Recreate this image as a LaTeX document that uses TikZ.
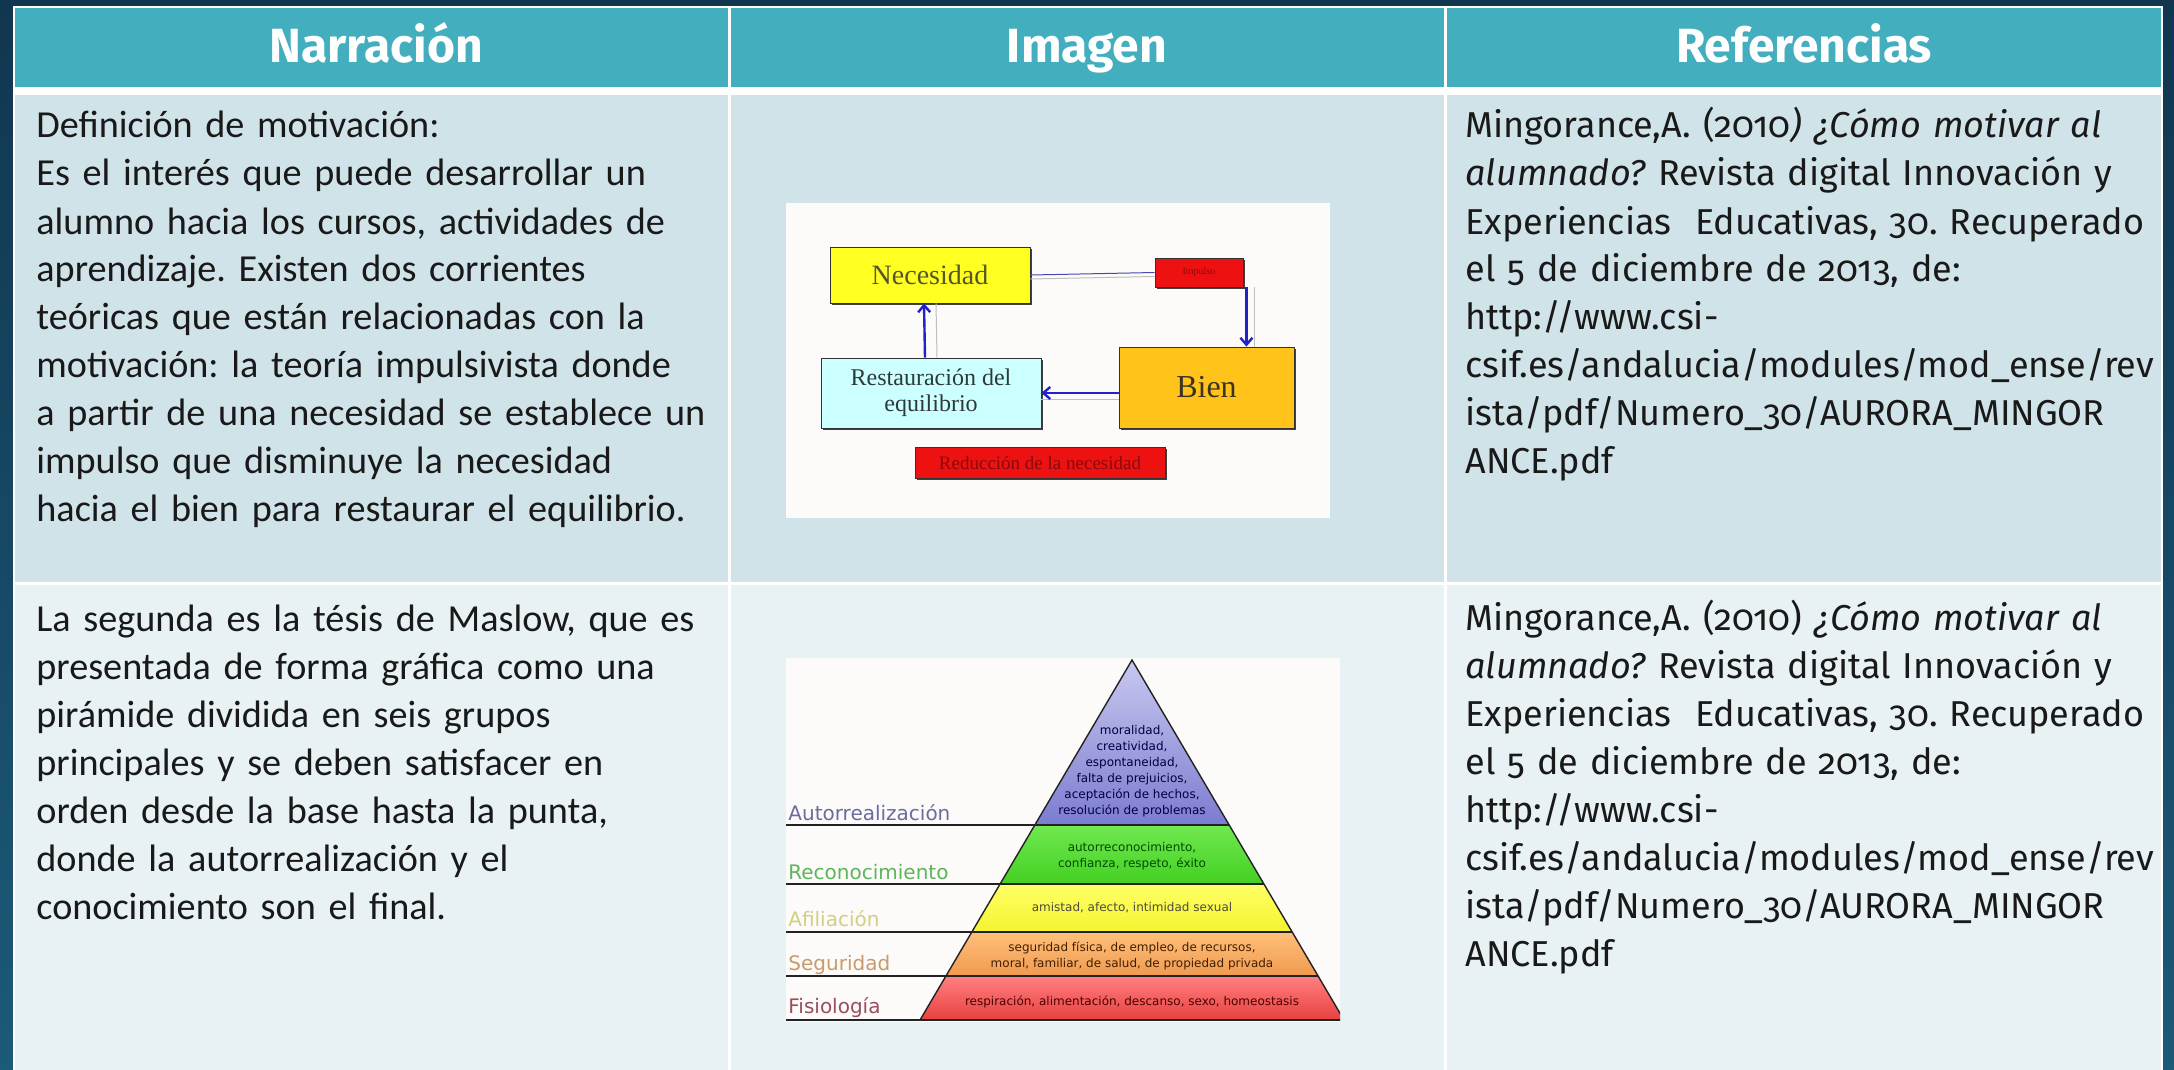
\documentclass[tikz,border=0pt]{standalone}
\usepackage{fontspec}
\setmainfont{Carlito}
\newfontfamily\headfont{Fira Sans}
\newfontfamily\reffont[Numbers=OldStyle]{Fira Sans}
\newfontfamily\figfont{Liberation Serif}
\newfontfamily\pyrfont{DejaVu Sans}
\usetikzlibrary{arrows.meta,shadows}
\frenchspacing

\definecolor{bgtop}{HTML}{113650}
\definecolor{bgbot}{HTML}{1B5A78}
\definecolor{headteal}{HTML}{42AEBE}
\definecolor{rowone}{HTML}{D0E3E9}
\definecolor{rowtwo}{HTML}{E8F1F4}
\definecolor{figwhite}{HTML}{FCFBF9}
\definecolor{necyellow}{HTML}{FFFF22}
\definecolor{bienorange}{HTML}{FFC31A}
\definecolor{restcyan}{HTML}{CCFFFF}
\definecolor{boxred}{HTML}{EE1111}
\definecolor{darkred}{HTML}{8A0A0A}
\definecolor{necink}{HTML}{55552A}
\definecolor{bienink}{HTML}{3D3320}
\definecolor{restink}{HTML}{2E3A3A}
\definecolor{flowblue}{HTML}{2222CC}
\definecolor{pyrline}{HTML}{222222}
\definecolor{autortop}{HTML}{C8C8F0}
\definecolor{autorbot}{HTML}{7C7CD0}
\definecolor{recontop}{HTML}{70E850}
\definecolor{reconbot}{HTML}{44D022}
\definecolor{afiltop}{HTML}{FFFF66}
\definecolor{afilbot}{HTML}{F4F430}
\definecolor{segtop}{HTML}{FFC07A}
\definecolor{segbot}{HTML}{F09A50}
\definecolor{fisiotop}{HTML}{FF8080}
\definecolor{fisiobot}{HTML}{E84040}
\definecolor{autorink}{HTML}{6B6B9E}
\definecolor{reconink}{HTML}{5DB55A}
\definecolor{afilink}{HTML}{D0D080}
\definecolor{segink}{HTML}{C99A6A}
\definecolor{fisioink}{HTML}{9A4D5F}

\begin{document}
\begin{tikzpicture}[x=0.5pt,y=-0.5pt,
    head/.style={anchor=base, text=white, font=\headfont\bfseries\fontsize{24}{28}\selectfont},
    narr/.style={anchor=base west, inner sep=0pt, text width=340pt, align=left, text=black!90, font=\fontsize{19.1}{24}\selectfont},
    refs/.style={anchor=base west, inner sep=0pt, text width=340pt, align=left, text=black!90, font=\reffont\fontsize{18}{24}\selectfont},
    fbox/.style={draw=black!80, line width=0.4pt, inner sep=1pt, align=center,
      drop shadow={shadow xshift=1.2pt, shadow yshift=-1.2pt, fill=black!75, opacity=1}},
    flow/.style={flowblue, line width=1.2pt, -{Straight Barb[length=3.5pt,width=6pt]}},
    echo/.style={black!25, line width=0.5pt},
    lvl/.style={anchor=base west, inner sep=0pt, font=\pyrfont\fontsize{10}{12}\selectfont},
    lvltext/.style={align=center, inner sep=0pt, font=\pyrfont\fontsize{6}{8}\selectfont},
    pyrrule/.style={pyrline, line width=0.7pt}]

  \useasboundingbox (0,0) rectangle (2174,1070);
  \shade[top color=bgtop, bottom color=bgbot] (0,0) rectangle (2174,1070);
  \fill[white] (13,6) rectangle (2163,1070);
  \fill[headteal] (15,8) rectangle (2161,87);
  \fill[rowone] (15,95) rectangle (2161,582);
  \fill[rowtwo] (15,585) rectangle (2161,1070);
  \draw[white, line width=1.5pt] (729.5,6) -- (729.5,1070);
  \draw[white, line width=1.5pt] (1445.5,6) -- (1445.5,1070);

  \node[head] (hnarr) at (376,63) {Narración};
  \node[head] (himg) at (1087,63) {Imagen};
  \node[head] (hrefs) at (1804,63) {Referencias};

  \node[narr] (narr1) at (36,138) {Definición de motivación:\\
    Es el interés que puede desarrollar un\\
    alumno hacia los cursos, actividades de\\
    aprendizaje. Existen dos corrientes\\
    teóricas que están relacionadas con la\\
    motivación: la teoría impulsivista donde\\
    a partir de una necesidad se establece un\\
    impulso que disminuye la necesidad\\
    hacia el bien para restaurar el equilibrio.};
  \node[narr] (narr2) at (36,631) {La segunda es la tésis de Maslow, que es\\
    presentada de forma gráfica como una\\
    pirámide dividida en seis grupos\\
    principales y se deben satisfacer en\\
    orden desde la base hasta la punta,\\
    donde la autorrealización y el\\
    conocimiento son el final.};

  \node[refs] (refs1) at (1465,138) {Mingorance,A. (2010\textit{) ¿Cómo motivar al}\\
    \textit{alumnado?} Revista digital Innovación y\\
    Experiencias~ Educativas, 30. Recuperado\\
    el 5 de diciembre de 2013, de:\\
    http://www.csi-\\
    csif.es/andalucia/modules/mod\_ense/rev\\
    ista/pdf/Numero\_30/AURORA\_MINGOR\\
    ANCE.pdf};
  \node[refs] (refs2) at (1465,630) {Mingorance,A. (2010) \textit{¿Cómo motivar al}\\
    \textit{alumnado?} Revista digital Innovación y\\
    Experiencias~ Educativas, 30. Recuperado\\
    el 5 de diciembre de 2013, de:\\
    http://www.csi-\\
    csif.es/andalucia/modules/mod\_ense/rev\\
    ista/pdf/Numero\_30/AURORA\_MINGOR\\
    ANCE.pdf};

  % impulse cycle
  \fill[figwhite] (786,203) rectangle (1330,518);
  \node[fbox, fill=necyellow, minimum width=100pt, minimum height=28pt, text=necink,
    font=\figfont\fontsize{14}{16}\selectfont] (nec) at (930,275) {Necesidad};
  \node[fbox, fill=boxred, minimum width=44pt, minimum height=14.5pt, text=darkred,
    font=\figfont\fontsize{5}{6}\selectfont] (imp) at (1199,272.5) {Impulso};
  \node[fbox, fill=bienorange, minimum width=87.5pt, minimum height=40.5pt, text=bienink,
    font=\figfont\fontsize{16}{18}\selectfont] (bien) at (1206.5,387.5) {Bien};
  \node[fbox, fill=restcyan, minimum width=110pt, minimum height=35pt, text=restink,
    font=\figfont\fontsize{12}{13}\selectfont] (rest) at (931,393) {Restauración del\\ equilibrio};
  \node[fbox, fill=boxred, minimum width=125pt, minimum height=15.5pt, text=darkred,
    font=\figfont\fontsize{9.5}{11}\selectfont] (reduc) at (1040,462.5) {Reducción de la necesidad};

  \coordinate (impout) at ([xshift=1.5pt]imp.south east);
  \coordinate (bienin) at (impout |- bien.north);
  \coordinate (bienout) at (rest.east -| bien.west);

  \draw[echo] ([yshift=-2pt]nec.east) -- ([yshift=-2pt]imp.west);
  \draw[flowblue!60!gray, line width=0.5pt] (nec.east) -- (imp.west);
  \draw[echo] ([xshift=4pt]impout) -- ([xshift=4pt]bienin);
  \draw[flow] (impout) -- (bienin);
  \draw[echo] ([yshift=-3pt]bienout) -- ([yshift=-3pt]rest.east);
  \draw[flow] (bienout) -- (rest.east);
  \draw[echo] ([xshift=3pt]rest.north) -- ([xshift=3pt]nec.south);
  \draw[flow] ([xshift=-3pt]rest.north) -- ([xshift=-3pt]nec.south);

  % Maslow pyramid
  \fill[figwhite] (786,658) rectangle (1340,1022);
  \begin{scope}
    \clip (786,658) rectangle (1340,1022);
    \clip (1132,660) -- (920,1020) -- (1344,1020) -- cycle;
    \shade[top color=autortop, bottom color=autorbot] (900,660) rectangle (1360,825);
    \shade[top color=recontop, bottom color=reconbot] (900,825) rectangle (1360,884);
    \shade[top color=afiltop, bottom color=afilbot] (900,884) rectangle (1360,932);
    \shade[top color=segtop, bottom color=segbot] (900,932) rectangle (1360,976);
    \shade[top color=fisiotop, bottom color=fisiobot] (900,976) rectangle (1360,1020);
  \end{scope}
  \begin{scope}
    \clip (786,658) rectangle (1340,1022);
    \draw[pyrrule] (920,1020) -- (1132,660) -- (1344,1020);
    \foreach \yy in {825,884,932,976}
      \draw[pyrrule] (786,\yy) -- ({1132+0.5889*(\yy-660)},\yy);
    \draw[pyrrule] (786,1020) -- (1344,1020);
  \end{scope}

  \node[lvl, text=autorink] (lautor) at (788,820) {Autorrealización};
  \node[lvl, text=reconink] (lrecon) at (788,879) {Reconocimiento};
  \node[lvl, text=afilink] (lafil) at (788,926) {Afiliación};
  \node[lvl, text=segink] (lseg) at (788,970) {Seguridad};
  \node[lvl, text=fisioink] (lfisio) at (788,1013) {Fisiología};

  \node[lvltext, text=black!75!blue] (tautor) at (1132,771) {moralidad,\\ creatividad,\\ espontaneidad,\\
    falta de prejuicios,\\ aceptación de hechos,\\ resolución de problemas};
  \node[lvltext, text=black!70!green] (trecon) at (1132,856) {autorreconocimiento,\\ confianza, respeto, éxito};
  \node[lvltext, text=black!80!yellow] (tafil) at (1132,908) {amistad, afecto, intimidad sexual};
  \node[lvltext, text=black!75!orange] (tseg) at (1132,955.5) {seguridad física, de empleo, de recursos,\\
    moral, familiar, de salud, de propiedad privada};
  \node[lvltext, text=black!70!red] (tfisio) at (1132,1002) {respiración, alimentación, descanso, sexo, homeostasis};
\end{tikzpicture}
\end{document}
